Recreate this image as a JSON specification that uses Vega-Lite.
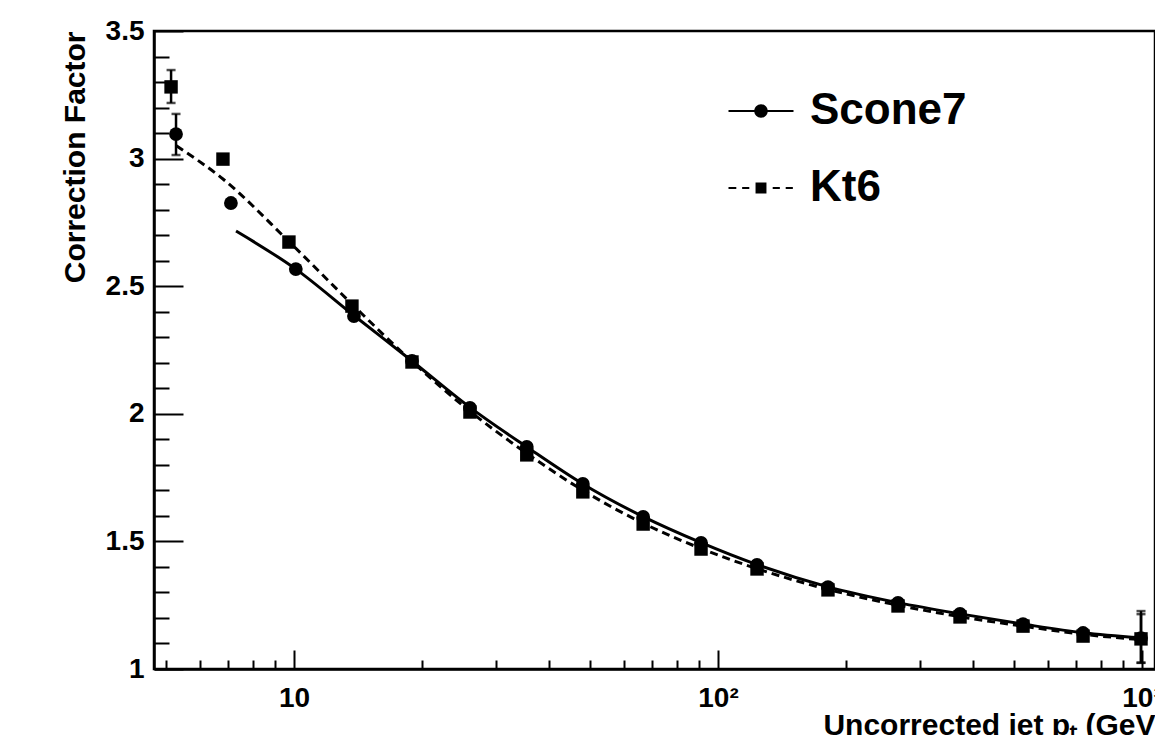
{
  "$schema": "https://vega.github.io/schema/vega-lite/v6.json",
  "autosize": {"type": "none"},
  "padding": {"left": 154, "top": 31, "right": 0, "bottom": 66},
  "width": 1001,
  "height": 638,
  "background": "white",
  "config": {
    "view": {"stroke": "black", "strokeWidth": 2.5},
    "font": "Liberation Sans"
  },
  "datasets": {
    "points": [
      {"series": "Scone7", "pt": 5.27, "cf": 3.096, "lo": 3.014, "hi": 3.175},
      {"series": "Scone7", "pt": 7.10, "cf": 2.826},
      {"series": "Scone7", "pt": 10.1, "cf": 2.567},
      {"series": "Scone7", "pt": 13.85, "cf": 2.383},
      {"series": "Scone7", "pt": 18.98, "cf": 2.207},
      {"series": "Scone7", "pt": 26.0, "cf": 2.023},
      {"series": "Scone7", "pt": 35.4, "cf": 1.870},
      {"series": "Scone7", "pt": 48.0, "cf": 1.725},
      {"series": "Scone7", "pt": 66.6, "cf": 1.596},
      {"series": "Scone7", "pt": 91.2, "cf": 1.494},
      {"series": "Scone7", "pt": 123.6, "cf": 1.408},
      {"series": "Scone7", "pt": 181.7, "cf": 1.321},
      {"series": "Scone7", "pt": 265.8, "cf": 1.259},
      {"series": "Scone7", "pt": 372.2, "cf": 1.216},
      {"series": "Scone7", "pt": 524, "cf": 1.176},
      {"series": "Scone7", "pt": 726, "cf": 1.141},
      {"series": "Scone7", "pt": 994.5, "cf": 1.121, "lo": 1.024, "hi": 1.227},
      {"series": "Kt6", "pt": 5.13, "cf": 3.281, "lo": 3.218, "hi": 3.347},
      {"series": "Kt6", "pt": 6.80, "cf": 2.998},
      {"series": "Kt6", "pt": 9.73, "cf": 2.673},
      {"series": "Kt6", "pt": 13.7, "cf": 2.422},
      {"series": "Kt6", "pt": 18.98, "cf": 2.203},
      {"series": "Kt6", "pt": 26.0, "cf": 2.007},
      {"series": "Kt6", "pt": 35.4, "cf": 1.839},
      {"series": "Kt6", "pt": 48.0, "cf": 1.694},
      {"series": "Kt6", "pt": 66.6, "cf": 1.568},
      {"series": "Kt6", "pt": 91.2, "cf": 1.470},
      {"series": "Kt6", "pt": 123.6, "cf": 1.392},
      {"series": "Kt6", "pt": 181.7, "cf": 1.310},
      {"series": "Kt6", "pt": 265.8, "cf": 1.247},
      {"series": "Kt6", "pt": 372.2, "cf": 1.204},
      {"series": "Kt6", "pt": 524, "cf": 1.168},
      {"series": "Kt6", "pt": 726, "cf": 1.129},
      {"series": "Kt6", "pt": 994.5, "cf": 1.118, "lo": 1.025, "hi": 1.215}
    ],
    "fits": [
      {"series": "Scone7", "pt": 7.3, "cf": 2.716},
      {"series": "Scone7", "pt": 10.1, "cf": 2.567},
      {"series": "Scone7", "pt": 13.85, "cf": 2.385},
      {"series": "Scone7", "pt": 18.98, "cf": 2.207},
      {"series": "Scone7", "pt": 26.0, "cf": 2.025},
      {"series": "Scone7", "pt": 35.4, "cf": 1.870},
      {"series": "Scone7", "pt": 48.0, "cf": 1.725},
      {"series": "Scone7", "pt": 66.6, "cf": 1.597},
      {"series": "Scone7", "pt": 91.2, "cf": 1.495},
      {"series": "Scone7", "pt": 123.6, "cf": 1.409},
      {"series": "Scone7", "pt": 181.7, "cf": 1.322},
      {"series": "Scone7", "pt": 265.8, "cf": 1.260},
      {"series": "Scone7", "pt": 372.2, "cf": 1.216},
      {"series": "Scone7", "pt": 524, "cf": 1.176},
      {"series": "Scone7", "pt": 726, "cf": 1.142},
      {"series": "Scone7", "pt": 994.5, "cf": 1.122},
      {"series": "Kt6", "pt": 5.28, "cf": 3.05},
      {"series": "Kt6", "pt": 6.8, "cf": 2.92},
      {"series": "Kt6", "pt": 9.73, "cf": 2.675},
      {"series": "Kt6", "pt": 13.7, "cf": 2.43},
      {"series": "Kt6", "pt": 18.98, "cf": 2.205},
      {"series": "Kt6", "pt": 26.0, "cf": 2.01},
      {"series": "Kt6", "pt": 35.4, "cf": 1.845},
      {"series": "Kt6", "pt": 48.0, "cf": 1.70},
      {"series": "Kt6", "pt": 66.6, "cf": 1.571},
      {"series": "Kt6", "pt": 91.2, "cf": 1.472},
      {"series": "Kt6", "pt": 123.6, "cf": 1.393},
      {"series": "Kt6", "pt": 181.7, "cf": 1.312},
      {"series": "Kt6", "pt": 265.8, "cf": 1.250},
      {"series": "Kt6", "pt": 372.2, "cf": 1.205},
      {"series": "Kt6", "pt": 524, "cf": 1.168},
      {"series": "Kt6", "pt": 726, "cf": 1.136},
      {"series": "Kt6", "pt": 994.5, "cf": 1.115}
    ]
  },
  "encoding": {
    "x": {
      "field": "pt", "type": "quantitative",
      "scale": {"type": "log", "domain": [4.676, 1073], "nice": false, "zero": false},
      "axis": {
        "values": [5, 6, 7, 8, 9, 10, 20, 30, 40, 50, 60, 70, 80, 90, 100, 200, 300, 400, 500, 600, 700, 800, 900, 1000],
        "labelExpr": "datum.value == 10 ? '10' : (datum.value == 100 ? '10²' : (datum.value == 1000 ? '10³' : ''))",
        "tickSize": {"condition": {"test": "indexof([10,100,1000], datum.value) >= 0", "value": -19}, "value": -9},
        "tickColor": "black", "tickWidth": 2,
        "domainColor": "black", "domainWidth": 2.5,
        "grid": false,
        "labelFont": "Liberation Sans", "labelFontWeight": "bold", "labelFontSize": 28, "labelColor": "black",
        "labelPadding": 34, "labelFlush": false, "labelOverlap": false, "labelBound": false,
        "title": "Uncorrected jet pₜ (GeV)",
        "titleFont": "Liberation Sans", "titleFontWeight": "bold", "titleFontSize": 30, "titleColor": "black",
        "titleAnchor": "end", "titleAlign": "right", "titleBaseline": "alphabetic",
        "titleX": 1011, "titleY": 65
      }
    },
    "y": {
      "field": "cf", "type": "quantitative",
      "scale": {"domain": [1, 3.5], "nice": false, "zero": false},
      "axis": {
        "values": [1, 1.1, 1.2, 1.3, 1.4, 1.5, 1.6, 1.7, 1.8, 1.9, 2, 2.1, 2.2, 2.3, 2.4, 2.5, 2.6, 2.7, 2.8, 2.9, 3, 3.1, 3.2, 3.3, 3.4, 3.5],
        "labelExpr": "abs(datum.value * 2 - round(datum.value * 2)) < 0.001 ? format(datum.value, '~g') : ''",
        "tickSize": {"condition": {"test": "abs(datum.value * 2 - round(datum.value * 2)) < 0.001", "value": -29}, "value": -15},
        "tickColor": "black", "tickWidth": 2,
        "domainColor": "black", "domainWidth": 2.5,
        "grid": false,
        "labelFont": "Liberation Sans", "labelFontWeight": "bold", "labelFontSize": 28, "labelColor": "black",
        "labelPadding": 39, "labelOverlap": false, "labelBound": false, "labelFlush": false,
        "title": "Correction Factor",
        "titleFont": "Liberation Sans", "titleFontWeight": "bold", "titleFontSize": 30, "titleColor": "black",
        "titleAnchor": "end", "titlePadding": 15
      }
    }
  },
  "layer": [
    {
      "data": {"name": "fits"},
      "transform": [{"filter": "datum.series === 'Scone7'"}],
      "mark": {"type": "line", "color": "black", "strokeWidth": 3, "interpolate": "monotone"},
      "encoding": {}
    },
    {
      "data": {"name": "fits"},
      "transform": [{"filter": "datum.series === 'Kt6'"}],
      "mark": {"type": "line", "color": "black", "strokeWidth": 3, "strokeDash": [8, 5], "interpolate": "monotone"},
      "encoding": {}
    },
    {
      "data": {"name": "points"},
      "transform": [{"filter": "datum.lo != null"}],
      "mark": {"type": "errorbar", "color": "black", "thickness": 2.5, "ticks": {"size": 9, "thickness": 2.5, "color": "black"}},
      "encoding": {
        "y": {"field": "lo", "type": "quantitative"},
        "y2": {"field": "hi"},
        "detail": {"field": "series"}
      }
    },
    {
      "data": {"name": "points"},
      "transform": [{"filter": "datum.series === 'Scone7'"}],
      "mark": {"type": "point", "shape": "circle", "filled": true, "color": "black", "opacity": 1, "size": 190},
      "encoding": {}
    },
    {
      "data": {"name": "points"},
      "transform": [{"filter": "datum.series === 'Kt6'"}],
      "mark": {"type": "point", "shape": "square", "filled": true, "color": "black", "opacity": 1, "size": 180},
      "encoding": {}
    },
    {
      "data": {"name": "points"},
      "transform": [{"filter": "false"}],
      "mark": {"type": "point", "filled": true, "color": "black", "opacity": 1},
      "encoding": {
        "shape": {
          "field": "series", "type": "nominal",
          "scale": {
            "domain": ["Scone7", "Kt6"],
            "range": [
              "M-2.5,-0.08H-0.48V0.08H-2.5ZM0.48,-0.08H2.5V0.08H0.48ZM0.52,0A0.52,0.52,0,1,1,-0.52,0A0.52,0.52,0,1,1,0.52,0Z",
              "M-2.5,-0.08H-1.9V0.08H-2.5ZM-1.45,-0.08H-0.9V0.08H-1.45ZM-0.42,-0.42H0.42V0.42H-0.42ZM0.9,-0.08H1.45V0.08H0.9ZM1.9,-0.08H2.45V0.08H1.9Z"
            ]
          },
          "legend": {
            "title": null,
            "orient": "none",
            "legendX": 585,
            "legendY": 58,
            "padding": 0,
            "rowPadding": 33,
            "symbolSize": 676,
            "symbolFillColor": "black",
            "symbolOpacity": 1,
            "labelOffset": 27,
            "labelFont": "Liberation Sans",
            "labelFontWeight": "bold",
            "labelFontSize": 44,
            "labelColor": "black",
            "labelLimit": 400
          }
        }
      }
    }
  ]
}
